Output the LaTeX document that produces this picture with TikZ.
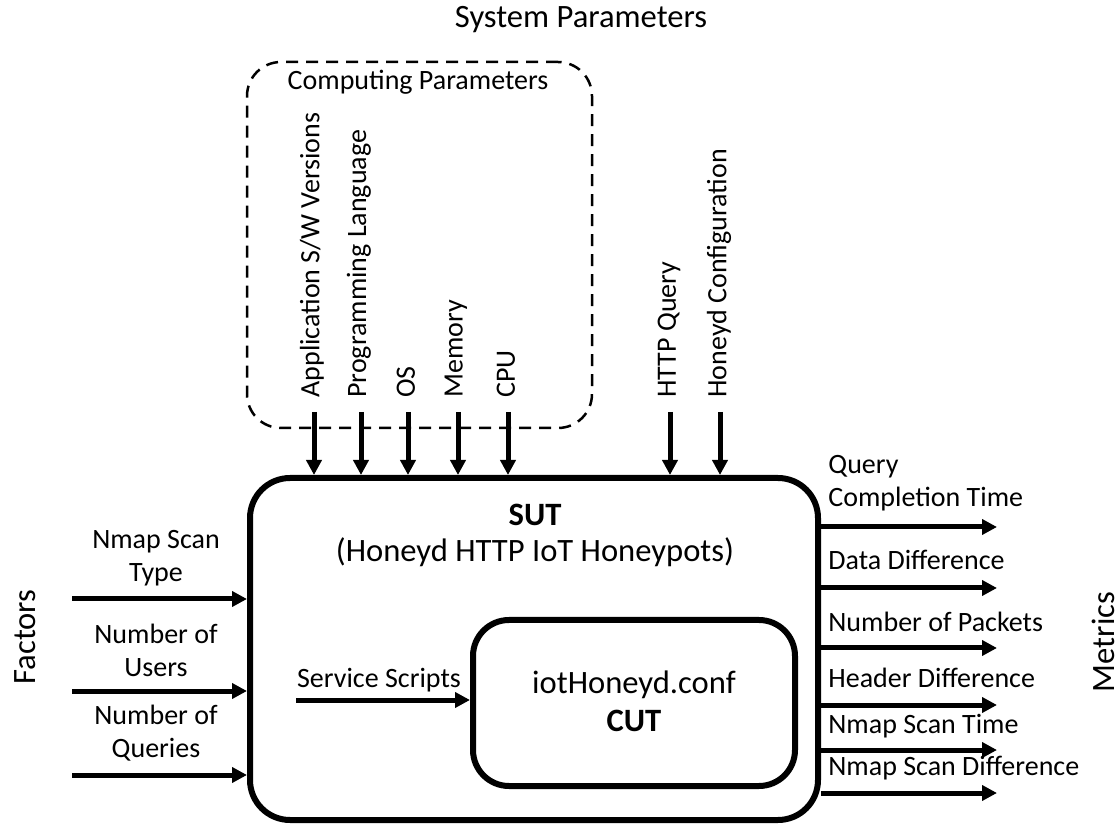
\documentclass[tikz,border=0pt]{standalone}
\usepackage{fontspec}
\setmainfont{Carlito}
\usetikzlibrary{arrows.meta}
\tikzset{
  arr/.style={line width=2.5pt,-{Triangle[length=7.5pt,width=7.5pt]}},
  vlabel/.style={rotate=90,anchor=west,inner sep=1pt},
  box/.style={draw,line width=3pt,rounded corners=20pt},
  big/.style={font=\fontsize{16.3pt}{19pt}\selectfont},
}
\begin{document}
\begin{tikzpicture}[x=0.5pt,y=-0.5pt,font=\fontsize{14pt}{16.5pt}\selectfont]
\useasboundingbox (0,0) rectangle (1120,828);

\node[big] (sysp) at (581,20) {System Parameters};
\node[draw,dashed,line width=1.25pt,dash pattern=on 6pt off 4pt,rounded corners=17pt,minimum width=172.5pt,minimum height=183pt] (comp) at (419.5,245) {};
\node (compt) at (418,82) {Computing Parameters};

\node[box,minimum width=284pt,minimum height=171pt] (sut) at (534,649) {};
\node[big] (sutt) at (535,515) {\bfseries SUT};
\node[big] (sutd) at (535,552) {(Honeyd HTTP IoT Honeypots)};

\node[box,rounded corners=18pt,minimum width=161pt,minimum height=83pt] (cut) at (634,703) {};
\node[big,align=center] (cutt) at (634,701) {iotHoneyd.conf\\\bfseries CUT};

\node[vlabel] (papp) at (312,400) {Application S/W Versions};
\node[vlabel] (plang) at (359,400) {Programming Language};
\node[vlabel] (pos) at (406,400) {OS};
\node[vlabel] (pmem) at (456,400) {Memory};
\node[vlabel] (pcpu) at (506,400) {CPU};
\node[vlabel] (phttp) at (669,400) {HTTP Query};
\node[vlabel] (pconf) at (719,400) {Honeyd Configuration};

\coordinate (aapp) at (314,412);
\coordinate (alang) at (361,412);
\coordinate (aos) at (408,412);
\coordinate (amem) at (458,412);
\coordinate (acpu) at (508,412);
\coordinate (ahttp) at (670,412);
\coordinate (aconf) at (720,412);
\draw[arr] (aapp) -- (aapp |- sut.north);
\draw[arr] (alang) -- (alang |- sut.north);
\draw[arr] (aos) -- (aos |- sut.north);
\draw[arr] (amem) -- (amem |- sut.north);
\draw[arr] (acpu) -- (acpu |- sut.north);
\draw[arr] (ahttp) -- (ahttp |- sut.north);
\draw[arr] (aconf) -- (aconf |- sut.north);

\node[big,rotate=90,inner sep=0pt] (fact) at (25,637) {Factors};
\node[align=center] (fscan) at (156,558) {Nmap Scan\\Type};
\node[align=center] (fusers) at (156,650) {Number of\\Users};
\node[align=center] (fquer) at (156,733) {Number of\\Queries};
\coordinate (ascan) at (72,599);
\coordinate (ausers) at (72,691);
\coordinate (aquer) at (72,775);
\draw[arr] (ascan) -- (ascan -| sut.west);
\draw[arr] (ausers) -- (ausers -| sut.west);
\draw[arr] (aquer) -- (aquer -| sut.west);

\node (serv) at (379,680) {Service Scripts};
\coordinate (aserv) at (296,700);
\draw[arr] (aserv) -- (aserv -| cut.west);

\node[big,rotate=90,inner sep=0pt] (metr) at (1103,642) {Metrics};
\node[anchor=west,align=left,inner sep=1pt] (mqct) at (826,483) {Query\\Completion Time};
\node[anchor=west,inner sep=1pt] (mdata) at (826,560) {Data Difference};
\node[anchor=west,inner sep=1pt] (mpack) at (826,622) {Number of Packets};
\node[anchor=west,inner sep=1pt] (mhead) at (826,678) {Header Difference};
\node[anchor=west,inner sep=1pt] (mtime) at (826,726) {Nmap Scan Time};
\node[anchor=west,inner sep=1pt] (mdiff) at (826,768) {Nmap Scan Difference};
\coordinate (eqct) at (997,527);
\coordinate (edata) at (997,588);
\coordinate (epack) at (997,648);
\coordinate (ehead) at (997,705);
\coordinate (etime) at (997,750);
\coordinate (ediff) at (997,793);
\draw[arr] (eqct -| sut.east) -- (eqct);
\draw[arr] (edata -| sut.east) -- (edata);
\draw[arr] (epack -| sut.east) -- (epack);
\draw[arr] (ehead -| sut.east) -- (ehead);
\draw[arr] (etime -| sut.east) -- (etime);
\draw[arr] (ediff -| sut.east) -- (ediff);
\end{tikzpicture}
\end{document}
